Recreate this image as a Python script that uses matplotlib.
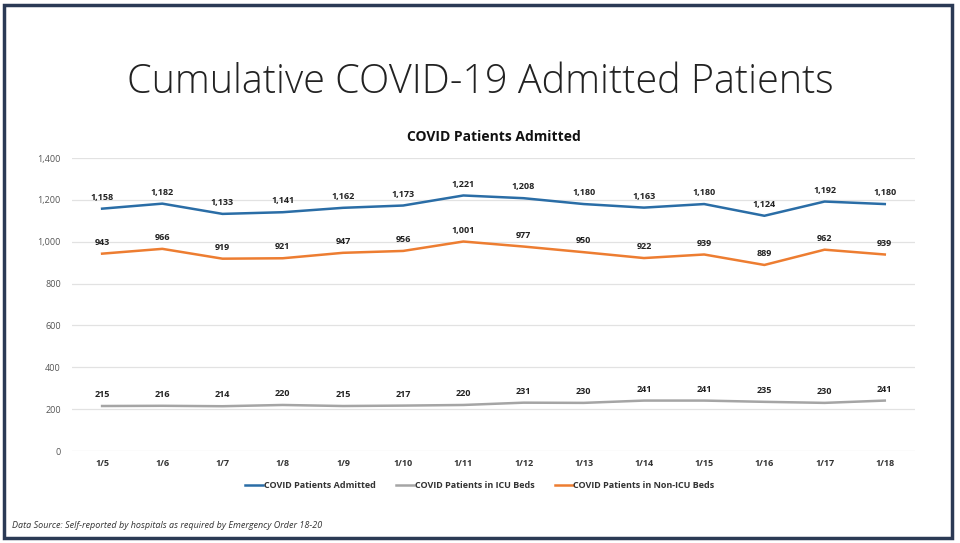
import numpy as np
import matplotlib.pyplot as plt
from matplotlib.patches import Rectangle

dates = ["1/5", "1/6", "1/7", "1/8", "1/9", "1/10", "1/11",
         "1/12", "1/13", "1/14", "1/15", "1/16", "1/17", "1/18"]
admitted = [1158, 1182, 1133, 1141, 1162, 1173, 1221,
            1208, 1180, 1163, 1180, 1124, 1192, 1180]
icu = [215, 216, 214, 220, 215, 217, 220,
       231, 230, 241, 241, 235, 230, 241]
non_icu = [943, 966, 919, 921, 947, 956, 1001,
           977, 950, 922, 939, 889, 962, 939]

plt.rcParams['font.family'] = ['Open Sans', 'DejaVu Sans']

fig = plt.figure(figsize=(9.6, 5.43), dpi=100)
ax = fig.add_axes([0.075, 0.1694, 0.878, 0.5396])

x = np.arange(len(dates))
series = [
    ("COVID Patients Admitted", admitted, "#2A6DA6"),
    ("COVID Patients in ICU Beds", icu, "#A5A5A5"),
    ("COVID Patients in Non-ICU Beds", non_icu, "#ED7D31"),
]
for name, vals, col in series:
    ax.plot(x, vals, color=col, lw=1.8, label=name)
    for xi, v in zip(x, vals):
        ax.annotate(f"{v:,}", (xi, v), xytext=(0, 5), textcoords="offset points",
                    ha="center", va="bottom", fontsize=6.5, fontweight="bold",
                    color="#222222")

ax.set_xlim(-0.5, 13.5)
ax.set_ylim(0, 1400)
ax.set_yticks(np.arange(0, 1401, 200))
ax.set_yticklabels([f"{v:,}" for v in range(0, 1401, 200)])
ax.set_xticks(x)
ax.set_xticklabels(dates, fontweight="bold")
ax.tick_params(axis="y", length=0, labelsize=6.5, labelcolor="#555555", pad=8)
ax.tick_params(axis="x", length=0, labelsize=6.5, labelcolor="#333333", pad=6)
ax.grid(axis="y", color="#E2E2E2", lw=0.9)
ax.set_axisbelow(True)
for s in ax.spines.values():
    s.set_visible(False)

ax.set_title("COVID Patients Admitted", fontsize=10, fontweight="bold",
             color="#111111", pad=12)

leg = fig.legend(loc="center", bbox_to_anchor=(0.5, 0.106), ncol=3, frameon=False,
                 fontsize=6.5, handlelength=2.0, columnspacing=2.2, handletextpad=0.1)
for t in leg.get_texts():
    t.set_fontweight("bold")
    t.set_color("#333333")

fig.text(0.5, 0.848, "Cumulative COVID-19 Admitted Patients", ha="center",
         va="center", fontsize=28.5, color="#222222", fontweight="light")

fig.text(0.013, 0.033, "Data Source: Self-reported by hospitals as required by Emergency Order 18-20",
         fontsize=6.5, style="italic", color="#333333", va="center")

fig.patches.append(Rectangle((0.004, 0.01), 0.988, 0.981, transform=fig.transFigure,
                             fill=False, edgecolor="#2B3A55", lw=2.5))

fig.savefig("out.png", dpi=100)
